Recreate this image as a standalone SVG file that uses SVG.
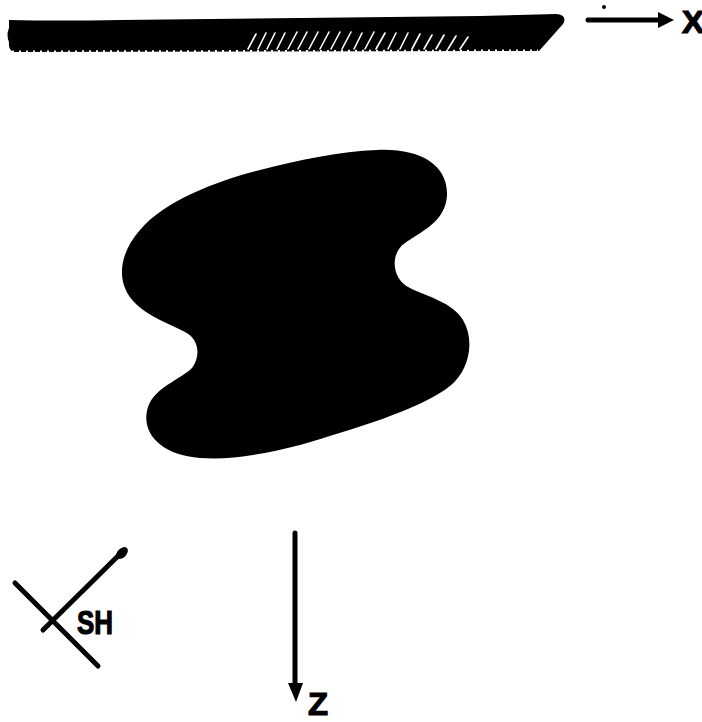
<svg xmlns="http://www.w3.org/2000/svg" width="702" height="722" viewBox="0 0 702 722">
<style>
.ink{fill:#000;stroke:none}
.ln{stroke:#000;stroke-width:5;stroke-linecap:round;fill:none}
.hatch{stroke:#fff;stroke-width:1.6;stroke-linecap:round;fill:none}
.notch{stroke:#fff;stroke-width:3;stroke-dasharray:2 5;fill:none}
.lbl{font-family:"Liberation Sans",Arial,sans-serif;font-weight:bold;fill:#000;stroke:#000;stroke-width:1.2}
</style>
<g id="ground">
<path class="ink" d="M9,20 Q60,21 120,20 L300,18 L480,16 L556,14 Q568,15 563,24 L539,51 L14,52 Q8,50 9,42 Q6,35 9,28 Z"/>
<path class="notch" d="M12,52 L538,51"/>
<g class="hatch">
<path d="M248,49 L256,34 M258,49 L266,33 M267,49 L275,33 M277,49 L285,33 M288,49 L297,32 M298,49 L307,32 M309,49 L318,32 M320,49 L329,32 M331,49 L340,32 M342,49 L351,32 M354,49 L362,33 M365,49 L374,32 M376,49 L385,33 M388,49 L396,33 M400,49 L408,33 M412,49 L420,34 M424,49 L432,35 M436,49 L444,35 M448,49 L456,36 M460,49 L468,37"/>
</g>
</g>
<g id="body">
<path class="ink" d="M377,150 C420,148 448,165 447,195 C446,222 420,232 405,243 C390,253 391,279 410,288 C428,297 452,302 463,320 C476,342 468,372 450,386 C420,410 350,430 300,445 C260,455 230,460 200,458 C160,455 140,432 148,407 C155,387 180,380 192,368 C201,356 199,339 185,332 C168,323 150,317 137,305 C115,285 118,255 140,230 C165,200 220,180 260,170 C300,160 340,151 377,150 Z"/>
</g>
<g id="connectors">
<line class="ln" x1="588" y1="20" x2="662" y2="20"/>
<path class="ink" d="M658,12 L674,20 L658,28 Z"/>
<circle class="ink" cx="604" cy="7" r="2"/>
<line class="ln" x1="15" y1="583" x2="98" y2="666"/>
<line class="ln" x1="43" y1="630" x2="119" y2="555"/>
<ellipse class="ink" cx="122" cy="553" rx="7" ry="4.5" transform="rotate(-45 122 553)"/>
<line class="ln" x1="295" y1="533" x2="295" y2="688"/>
<path class="ink" d="M288,683 L303,683 L296,702 Z"/>
</g>
<g id="labels">
<text class="lbl" x="682" y="33" font-size="32" textLength="22" lengthAdjust="spacingAndGlyphs">X</text>
<text class="lbl" x="77" y="634" font-size="33" textLength="36" lengthAdjust="spacingAndGlyphs">SH</text>
<text class="lbl" x="308" y="715" font-size="32" textLength="20" lengthAdjust="spacingAndGlyphs">Z</text>
</g>
</svg>
